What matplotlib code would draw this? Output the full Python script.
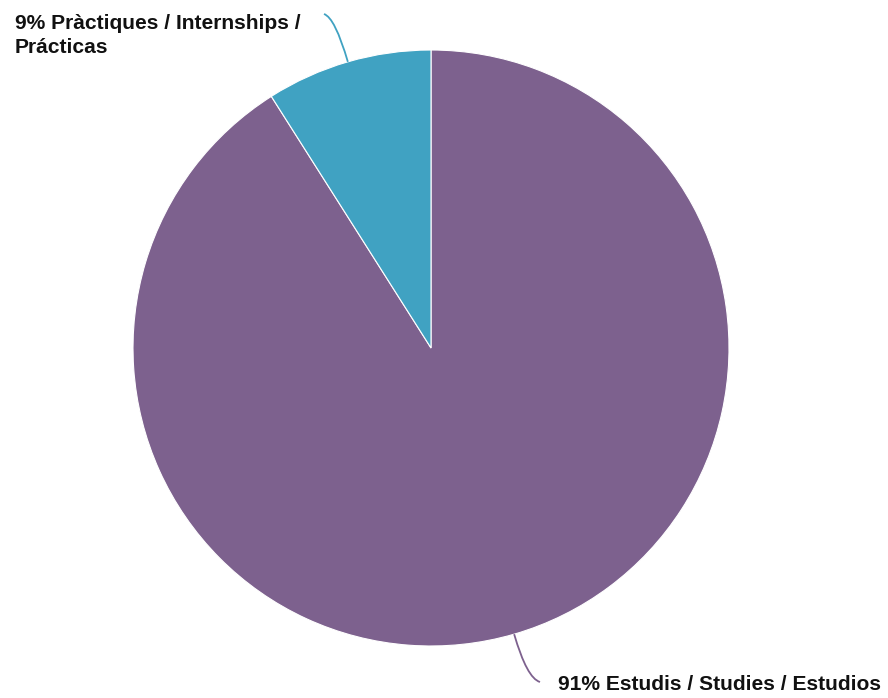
import matplotlib
matplotlib.use("Agg")
import matplotlib.pyplot as plt
from matplotlib.path import Path
from matplotlib.patches import PathPatch
import numpy as np

labels = ["Estudis / Studies / Estudios", "Pràctiques / Internships /\nPrácticas"]
shares = [91, 9]
colors = ["#7D618E", "#40A2C2"]

W, H = 888, 698
fig = plt.figure(figsize=(W / 100, H / 100), dpi=100)
ax = fig.add_axes([0, 0, 1, 1])

cx, cy, r = 431, 350, 298
wedges, _ = ax.pie(shares, colors=colors, startangle=90, counterclock=False,
                   center=(cx, cy), radius=r, frame=True,
                   wedgeprops=dict(edgecolor="white", linewidth=0.8))
ax.set_xlim(0, W)
ax.set_ylim(0, H)
ax.set_aspect("equal")
ax.axis("off")

font = dict(family=["Liberation Sans", "DejaVu Sans"], weight="bold", fontsize=15.1, color="#111111")

# leader lines: from the wedge's mid-angle on the rim, curving out to the label
label_ends = [(540, 16), (324, 684)]
text_pos = [(558, 8), (15, 645)]
for w, share, lab, end, tp in zip(wedges, shares, labels, label_ends, text_pos):
    ang = np.deg2rad((w.theta1 + w.theta2) / 2)
    start = (cx + r * np.cos(ang), cy + r * np.sin(ang))
    ctrl = (cx + (r + 46) * np.cos(ang), cy + (r + 46) * np.sin(ang))
    path = Path([start, ctrl, end], [Path.MOVETO, Path.CURVE3, Path.CURVE3])
    ax.add_patch(PathPatch(path, facecolor="none", edgecolor=w.get_facecolor(), linewidth=1.3))
    ax.text(tp[0], tp[1], f"{share}% {lab}", ha="left", va="baseline",
            linespacing=1.35, **font)

fig.savefig("out.png", dpi=100)
